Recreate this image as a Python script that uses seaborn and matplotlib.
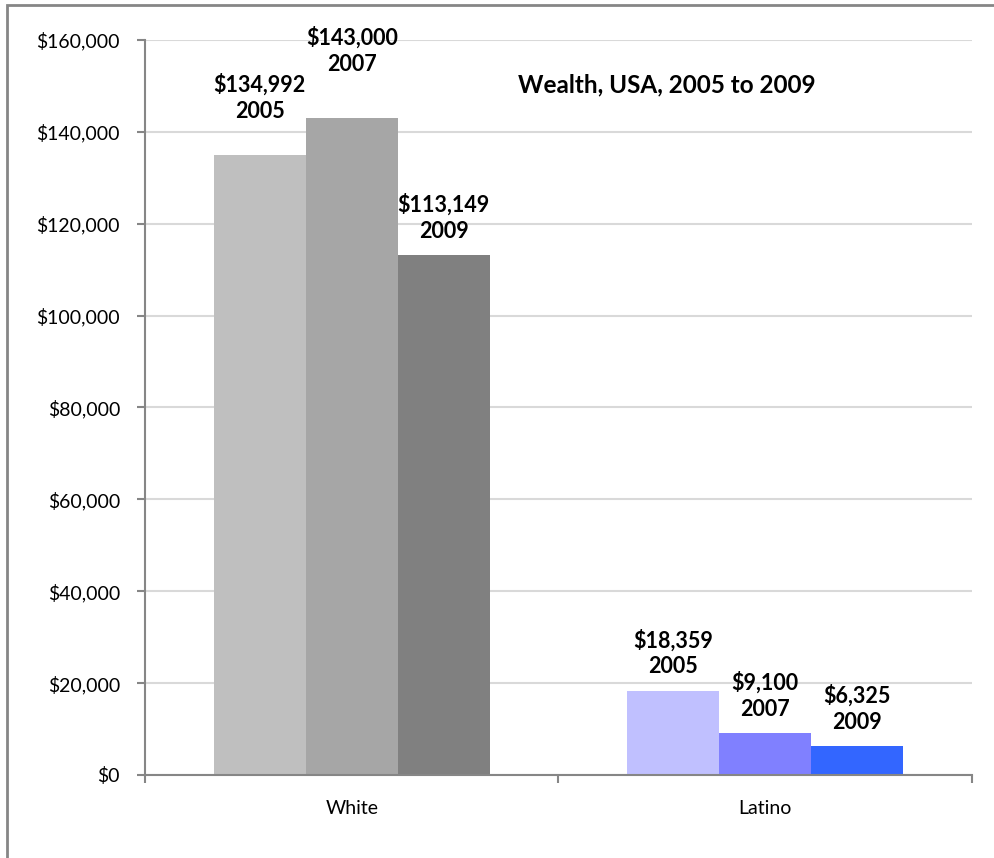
import matplotlib
matplotlib.use("Agg")
from matplotlib import pyplot as plt
from matplotlib.patches import Rectangle
import seaborn as sns
import pandas as pd

groups = ["White", "Latino"]
years = ["2005", "2007", "2009"]
white_wealth = [134992, 143000, 113149]
latino_wealth = [18359, 9100, 6325]
white_colors = ["#BFBFBF", "#A6A6A6", "#808080"]
latino_colors = ["#C0C0FF", "#8080FF", "#3366FF"]

df = pd.DataFrame({
    "group": ["White"] * 3 + ["Latino"] * 3,
    "year": years * 2,
    "wealth": white_wealth + latino_wealth,
})

sns.set_style("white")
plt.rcParams["font.family"] = ["Lato", "DejaVu Sans"]
plt.rcParams["text.color"] = "black"
plt.rcParams["xtick.color"] = "black"
plt.rcParams["ytick.color"] = "black"

fig = plt.figure(figsize=(9.95, 8.58), dpi=100)
ax = fig.add_axes([145 / 995, 1 - 775 / 858, (972 - 145) / 995, (775 - 40) / 858])

sns.barplot(data=df, x="group", y="wealth", hue="year", order=groups,
            hue_order=years, width=0.668, ax=ax, legend=False,
            saturation=1, errorbar=None)

# recolour bars: seaborn draws hue by hue, then by group
colors = {"White": white_colors, "Latino": latino_colors}
# the first two White labels were nudged up in the original chart
lift = {"White": [24, 31, 9.5], "Latino": [9.5, 9.5, 9.5]}
for h, cont in enumerate(ax.containers):
    for g, bar in enumerate(cont):
        grp = groups[g]
        bar.set_facecolor(colors[grp][h])
        bar.set_edgecolor("none")
        val = bar.get_height()
        ax.annotate(f"${val:,.0f}\n{years[h]}",
                    (bar.get_x() + bar.get_width() / 2, val),
                    xytext=(0, lift[grp][h]), textcoords="offset points",
                    ha="center", va="bottom", fontsize=15.5, fontweight="bold",
                    linespacing=1.3)

ax.set_ylim(0, 160000)
ax.set_xlim(-0.5, 1.5)
ax.set_yticks(range(0, 160001, 20000))
ax.set_yticklabels([f"${v:,.0f}" for v in range(0, 160001, 20000)])
ax.yaxis.grid(True, color="#D9D9D9", linewidth=1.5)
ax.set_axisbelow(True)
ax.set_xlabel("")
ax.set_ylabel("")

for s in ["top", "right"]:
    ax.spines[s].set_visible(False)
for s in ["left", "bottom"]:
    ax.spines[s].set_color("#868686")
    ax.spines[s].set_linewidth(1.5)

ax.set_xticks([-0.5, 0.5, 1.5], minor=False)
ax.set_xticklabels([])
ax.set_xticks([0, 1], minor=True)
ax.set_xticklabels(groups, minor=True)
ax.tick_params(axis="x", which="major", direction="out", length=6,
               color="#868686", width=1.5, bottom=True)
ax.tick_params(axis="x", which="minor", length=0, pad=18, labelsize=14)
ax.tick_params(axis="y", direction="out", length=6, color="#868686",
               width=1.5, left=True, labelsize=14, pad=12)

ax.text(0.631, 0.939, "Wealth, USA, 2005 to 2009", transform=ax.transAxes,
        ha="center", va="center", fontsize=17.5, fontweight="bold")

fig.patches.append(Rectangle((7 / 995, -0.1), 1.2, 1 - 5 / 858 + 0.1,
                             transform=fig.transFigure, fill=False,
                             edgecolor="#868686", linewidth=2))

fig.savefig("out.png", dpi=100)
